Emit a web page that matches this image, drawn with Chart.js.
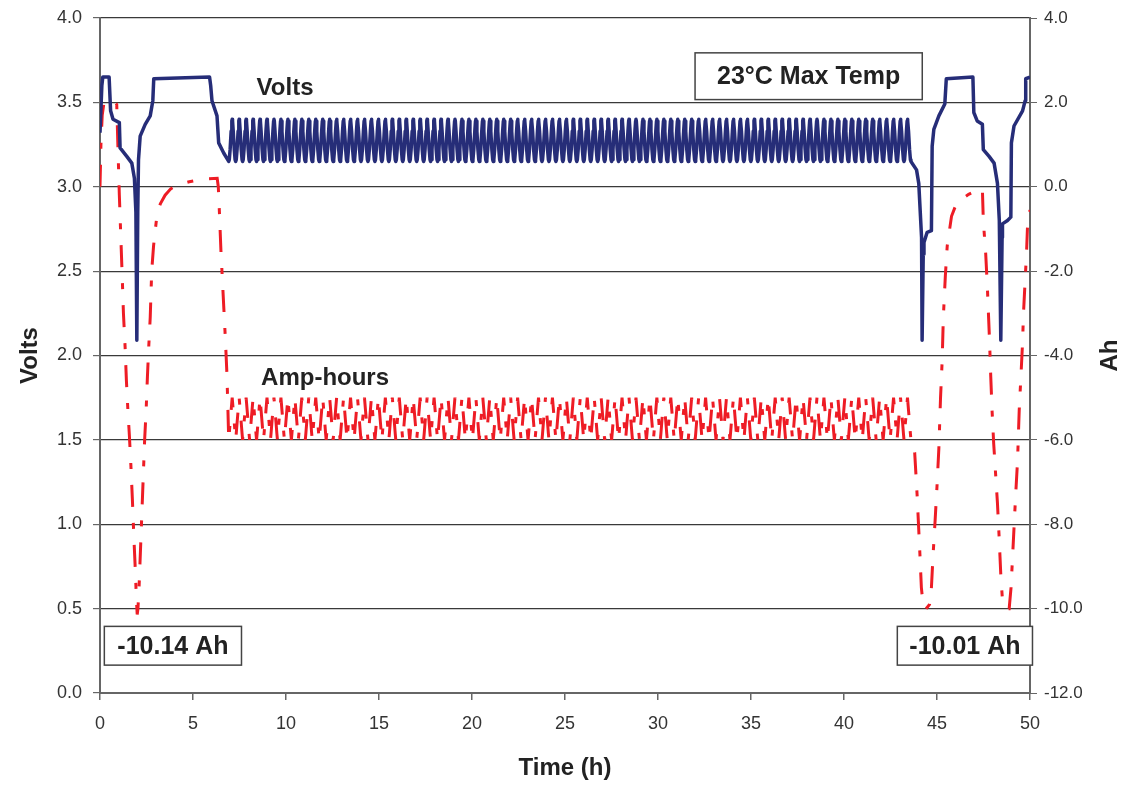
<!DOCTYPE html>
<html>
<head>
<meta charset="utf-8">
<script src="https://cdn.jsdelivr.net/npm/chart.js@4.4.1/dist/chart.umd.min.js"></script>
<style>
  html, body { margin: 0; padding: 0; background: #fff; }
  #chart { display: block; }
</style>
</head>
<body>
<canvas id="chart" width="1123" height="785"></canvas>
<script>
// conditioning run before the cycling block (hours, volts / amp-hours)
const voltsHeadTime = [0, 0.1, 0.15, 0.49, 0.57, 0.7, 1.04, 1.08, 1.44, 1.71, 1.85, 1.93, 1.98, 2.03, 2.07, 2.16, 2.43, 2.70, 2.84, 2.89, 5.89, 5.95, 6.02, 6.29, 6.38, 6.65]
const voltsHead     = [3.32, 3.60, 3.65, 3.65, 3.45, 3.40, 3.38, 3.23, 3.18, 3.14, 3.05, 2.85, 2.09, 2.85, 3.16, 3.30, 3.37, 3.42, 3.51, 3.64, 3.65, 3.60, 3.51, 3.42, 3.26, 3.20]

const ahHeadTime = [0, 0.05, 0.12, 0.2, 0.4, 0.7, 0.9, 0.96, 1.04, 1.12, 1.2, 1.26, 1.35, 1.42, 1.5, 1.58, 1.66, 1.74, 1.82, 1.9, 1.96, 2.0, 2.04, 2.1, 2.16, 2.22, 2.28, 2.34, 2.4, 2.48, 2.55, 2.62, 2.7, 2.78, 2.88, 2.98, 3.08, 3.25, 3.5, 3.8, 4.2, 4.8, 5.5, 6.3, 6.36, 6.42, 6.5, 6.58, 6.66, 6.74, 6.82, 6.86]
const ahHead     = [0.0, 1.0, 1.7, 1.95, 2.05, 2.05, 1.95, 1.0, -0.2, -1.2, -2.2, -3.0, -3.8, -4.6, -5.3, -5.9, -6.6, -7.4, -8.3, -9.1, -9.8, -10.14, -10.0, -9.5, -8.8, -8.1, -7.4, -6.7, -6.0, -5.3, -4.5, -3.8, -3.1, -2.0, -1.4, -1.0, -0.6, -0.4, -0.2, -0.05, 0.05, 0.12, 0.18, 0.2, 0.0, -0.6, -1.5, -2.2, -2.9, -3.6, -4.4, -5.0]

// shallow cycling block: one cycle's shape, repeated cycleCount times
const cycleStart = 6.92
const cycleEnd   = 43.6
const cycleCount = 98
const cyclePhase = [0, 0.08, 0.2, 0.35, 0.45, 0.5, 0.55, 0.65, 0.8, 0.92]
const cycleVolts = [3.15, 3.16, 3.22, 3.33, 3.39, 3.40, 3.39, 3.33, 3.22, 3.16]
const cycleAh    = [-6.0, -5.85, -5.6, -5.3, -5.1, -5.0, -5.1, -5.3, -5.6, -5.85]

// deep cycles after the block
const voltsTailTime = [43.9, 44.02, 44.17, 44.2, 44.26, 44.3, 44.47, 44.7, 44.74, 44.83, 45.1, 45.42, 45.5, 46.93, 46.98, 47.16, 47.44, 47.49, 47.8, 48.07, 48.25, 48.35, 48.43, 48.5, 48.52, 48.79, 48.97, 49.0, 49.14, 49.6, 49.74, 49.77, 50]
const voltsTail     = [3.10, 3.02, 2.70, 2.09, 2.60, 2.67, 2.73, 2.74, 3.24, 3.34, 3.42, 3.49, 3.64, 3.65, 3.44, 3.39, 3.37, 3.22, 3.18, 3.14, 3.02, 2.80, 2.09, 2.70, 2.78, 2.80, 2.82, 3.26, 3.36, 3.45, 3.51, 3.64, 3.65]

const ahTailTime = [43.8, 43.93, 44.08, 44.16, 44.25, 44.4, 44.6, 44.7, 44.78, 44.9, 45.0, 45.1, 45.19, 45.28, 45.34, 45.45, 45.55, 45.78, 46.0, 46.3, 46.7, 47.1, 47.44, 47.49, 47.62, 47.71, 47.82, 47.89, 47.96, 48.05, 48.15, 48.25, 48.34, 48.43, 48.52, 48.68, 48.88, 48.98, 49.06, 49.15, 49.23, 49.33, 49.42, 49.5, 49.6, 49.65, 49.74, 49.81, 49.87, 50]
const ahTail     = [-6.3, -7.3, -8.7, -9.5, -9.9, -10.01, -9.9, -9.5, -8.8, -7.9, -7.1, -6.2, -5.0, -4.1, -3.1, -2.1, -1.4, -0.7, -0.45, -0.3, -0.18, -0.1, -0.05, -0.8, -1.6, -2.4, -3.6, -4.5, -5.3, -6.1, -6.8, -7.5, -8.3, -9.2, -9.8, -10.0, -10.0, -9.5, -8.8, -8.0, -7.3, -6.5, -5.3, -4.6, -3.7, -3.0, -2.2, -1.6, -0.9, -0.55]

// text placed on the plot, anchored in data units (hours, volts)
const notes = [
  { text: "Volts",          x: 9.95, y: 3.59, size: 24, box: false },
  { text: "Amp-hours",      x: 12.1, y: 1.87, size: 24, box: false },
  { text: "23°C Max Temp",  x: 38.1, y: 3.655, size: 25, box: true, padX: 22, padY: 14 },
  { text: "-10.14 Ah",      x: 3.92, y: 0.28, size: 25, box: true, padX: 13, padY: 10 },
  { text: "-10.01 Ah",      x: 46.5, y: 0.28, size: 25, box: true, padX: 12, padY: 10 }
]

const FONT = "'Liberation Sans', Arial, sans-serif"

function buildSeries(headT, headY, cycleY, tailT, tailY) {
  const pts = headT.map((t, i) => ({ x: t, y: headY[i] }))
  const period = (cycleEnd - cycleStart) / cycleCount
  for (let c = 0; c < cycleCount; c++) {
    cyclePhase.forEach((p, k) => pts.push({ x: cycleStart + (c + p) * period, y: cycleY[k] }))
  }
  pts.push({ x: cycleEnd, y: cycleY[0] })
  tailT.forEach((t, i) => pts.push({ x: t, y: tailY[i] }))
  return pts
}

const notesPlugin = {
  id: "notes",
  afterDraw(chart) {
    const { ctx, scales: { x, y }, chartArea } = chart
    ctx.save()
    ctx.textAlign = "center"
    ctx.textBaseline = "middle"
    ctx.fillStyle = "#222"
    notes.forEach(n => {
      const cx = x.getPixelForValue(n.x)
      const cy = y.getPixelForValue(n.y)
      ctx.font = `bold ${n.size}px ${FONT}`
      if (n.box) {
        const w = ctx.measureText(n.text).width + n.padX * 2
        const h = n.size * 0.75 + n.padY * 2
        ctx.fillStyle = "#fff"
        ctx.fillRect(cx - w / 2, cy - h / 2, w, h)
        ctx.strokeStyle = "#444"
        ctx.lineWidth = 1.5
        ctx.strokeRect(cx - w / 2, cy - h / 2, w, h)
        ctx.fillStyle = "#222"
      }
      ctx.fillText(n.text, cx, cy + 1)
    })
    // secondary axis title
    ctx.translate(1110, (chartArea.top + chartArea.bottom) / 2)
    ctx.rotate(-Math.PI / 2)
    ctx.font = `bold 24px ${FONT}`
    ctx.fillText("Ah", 0, 0)
    ctx.restore()
  }
}

// fixed axis boxes; the tick padding shouldn't push the plot top down
const fitVertical = width => s => {
  s.width = width
  s.paddingTop = 10
  s.paddingBottom = 10
}

const axisGray = "#666"
const tickText = "#333"

new Chart(document.getElementById("chart"), {
  type: "line",
  data: {
    datasets: [{
      label: "Volts",
      data: buildSeries(voltsHeadTime, voltsHead, cycleVolts, voltsTailTime, voltsTail),
      yAxisID: "y",
      borderColor: "#262d78",
      borderWidth: 3.5,
      borderJoinStyle: "round",
      pointRadius: 0,
      tension: 0,
      order: 0
    }, {
      label: "Amp-hours",
      data: buildSeries(ahHeadTime, ahHead, cycleAh, ahTailTime, ahTail),
      yAxisID: "y2",
      borderColor: "#ee1c25",
      borderWidth: 3,
      borderDash: [22, 16, 6, 16],
      borderCapStyle: "butt",
      pointRadius: 0,
      tension: 0,
      order: 1
    }]
  },
  options: {
    responsive: false,
    animation: false,
    layout: { padding: { top: 18, left: 0, right: 0, bottom: 0 } },
    plugins: {
      legend: { display: false },
      tooltip: { enabled: false }
    },
    scales: {
      x: {
        type: "linear",
        min: 0,
        max: 50,
        afterFit: s => { s.height = 92 },
        ticks: { stepSize: 5, color: tickText, font: { family: FONT, size: 18 }, padding: 13, maxRotation: 0 },
        grid: { drawOnChartArea: false, color: axisGray, tickLength: 7, lineWidth: 1.5 },
        border: { color: axisGray, width: 2 },
        title: { display: true, text: "Time (h)", color: "#222", font: { family: FONT, size: 24, weight: "bold" }, padding: { top: 0, bottom: 2 } }
      },
      y: {
        position: "left",
        min: 0,
        max: 4,
        afterFit: fitVertical(100),
        ticks: { stepSize: 0.5, color: tickText, font: { family: FONT, size: 18 }, padding: 11, callback: v => v.toFixed(1) },
        grid: { color: "#3a3a3a", lineWidth: 1.2, tickLength: 7, tickColor: axisGray },
        border: { color: axisGray, width: 2 },
        title: { display: true, text: "Volts", color: "#222", font: { family: FONT, size: 24, weight: "bold" }, padding: { top: 16, bottom: 0 } }
      },
      y2: {
        position: "right",
        min: -12,
        max: 4,
        afterFit: fitVertical(93),
        ticks: { stepSize: 2, color: tickText, font: { family: FONT, size: 17 }, padding: 7, callback: v => v.toFixed(1) },
        grid: { drawOnChartArea: false, color: axisGray, tickLength: 7 },
        border: { color: axisGray, width: 2 }
      }
    }
  },
  plugins: [notesPlugin]
})
</script>
</body>
</html>
